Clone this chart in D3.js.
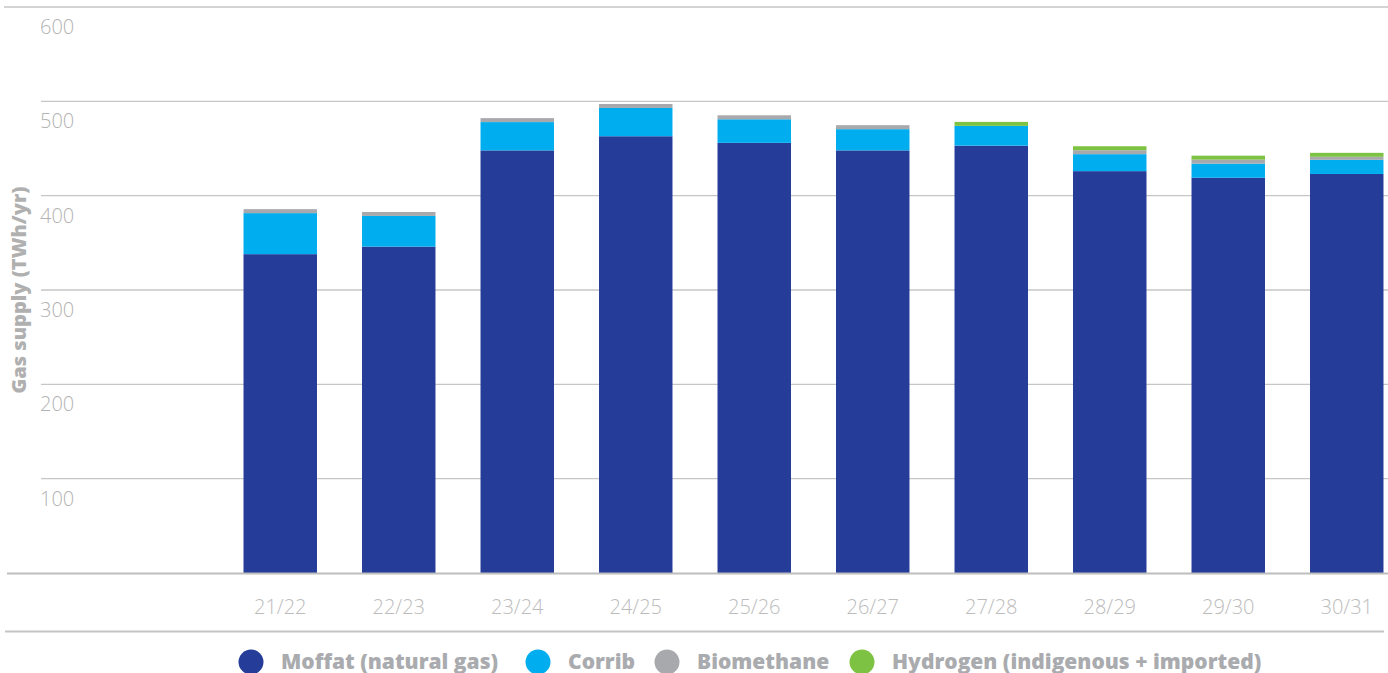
<!DOCTYPE html>
<html><head><meta charset="utf-8">
<script src="https://cdn.jsdelivr.net/npm/d3@7"></script>
<style>
html,body{margin:0;padding:0;background:#fff;}
svg{display:block;}
</style></head>
<body>
<svg id="chart" width="1388" height="673"></svg>
<script>
const categories = ["21/22","22/23","23/24","24/25","25/26","26/27","27/28","28/29","29/30","30/31"];
const moffat     = [338, 346, 448, 463, 456, 448, 453, 426, 419, 423];
const corrib     = [43.5, 32.5, 30, 30, 25, 22.5, 21, 18, 15, 15];
const biomethane = [4.2, 4.2, 4.2, 4.2, 4.2, 4.2, 0, 4.2, 4.2, 3.2];
const hydrogen   = [0, 0, 0, 0, 0, 0, 4.2, 4.2, 4.2, 4.2];
const seriesNames = ["Moffat (natural gas)", "Corrib", "Biomethane", "Hydrogen (indigenous + imported)"];
const seriesKeys = ["moffat","corrib","biomethane","hydrogen"];
const yTicks = [100, 200, 300, 400, 500, 600];
const colors = ["#253c98", "#00aeef", "#a7a9ac", "#7dc242"];

const rows = categories.map((c,i)=>({cat:c, moffat:moffat[i], corrib:corrib[i], biomethane:biomethane[i], hydrogen:hydrogen[i]}));
const stacked = d3.stack().keys(seriesKeys)(rows);

const svg = d3.select("#chart");
const y = d3.scaleLinear().domain([0,600]).range([573,7]);
const x = d3.scaleBand().domain(categories).range([221,1406]).paddingInner(0.38).paddingOuter(0.19);

// gridlines
svg.append("g").selectAll("line").data(yTicks.filter(t=>t<600)).join("line")
  .attr("x1",41).attr("x2",1388).attr("y1",d=>y(d)).attr("y2",d=>y(d))
  .attr("stroke","#c6c6c6").attr("stroke-width",1.3);
svg.append("line").attr("x1",4).attr("x2",1388).attr("y1",y(600)).attr("y2",y(600))
  .attr("stroke","#c6c6c6").attr("stroke-width",1.5);

// tick labels
svg.append("g").selectAll("text").data(yTicks).join("text")
  .attr("x",40).attr("y",d=>y(d)+27)
  .attr("font-family","'Open Sans', sans-serif").attr("font-weight",300).attr("font-size",20)
  .attr("fill","#b3b3b3").text(d=>d);

// bars
svg.append("g").selectAll("g").data(stacked).join("g")
  .attr("fill",(d,i)=>colors[i])
  .selectAll("rect").data(d=>d).join("rect")
  .attr("x",d=>x(d.data.cat)).attr("width",x.bandwidth())
  .attr("y",d=>y(d[1])).attr("height",d=>Math.max(0,y(d[0])-y(d[1])));

// baseline & bottom line
svg.append("line").attr("x1",7).attr("x2",1388).attr("y1",573.5).attr("y2",573.5)
  .attr("stroke","#bdbdbd").attr("stroke-width",2);
svg.append("line").attr("x1",5).attr("x2",1384).attr("y1",631.5).attr("y2",631.5)
  .attr("stroke","#c4c4c4").attr("stroke-width",2);

// x labels
svg.append("g").selectAll("text").data(categories).join("text")
  .attr("x",d=>x(d)+x.bandwidth()/2).attr("y",614)
  .attr("text-anchor","middle")
  .attr("font-family","'Open Sans', sans-serif").attr("font-weight",300).attr("font-size",20)
  .attr("fill","#bcbcbc").text(d=>d);

// y title
svg.append("text").attr("transform","translate(26,290) rotate(-90)")
  .attr("text-anchor","middle")
  .attr("font-family","'Open Sans', sans-serif").attr("font-weight",800).attr("font-size",20)
  .attr("fill","#b0b0b0").text("Gas supply (TWh/yr)");

// legend
const legX = [251, 538, 667, 862];
const lg = svg.append("g").selectAll("g").data(seriesNames).join("g")
  .attr("transform",(d,i)=>`translate(${legX[i]},662)`);
lg.append("circle").attr("r",12.5).attr("fill",(d,i)=>colors[i]);
lg.append("text").attr("x",30).attr("y",7)
  .attr("font-family","'Open Sans', sans-serif").attr("font-weight",800).attr("font-size",21)
  .attr("fill","#a9abae").text(d=>d);
</script>
</body></html>
